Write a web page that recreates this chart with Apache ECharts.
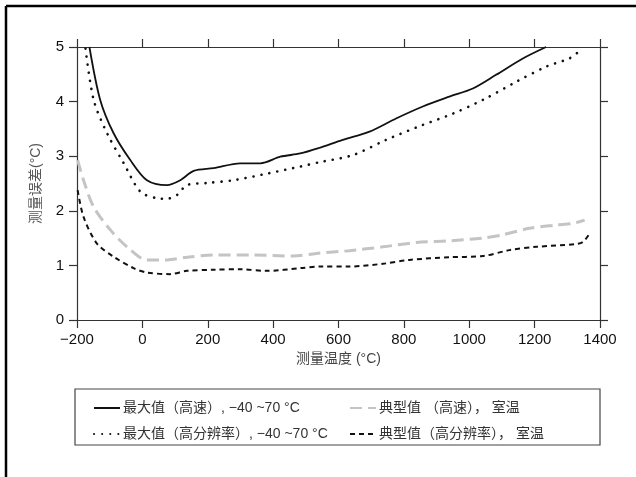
<!DOCTYPE html>
<html><head><meta charset="utf-8">
<script src="https://cdn.jsdelivr.net/npm/echarts@6/dist/echarts.min.js"></script>
<style>html,body{margin:0;padding:0;background:#fff}#c{width:636px;height:477px}</style>
</head><body><div id="c"></div>
<script>
const xTicks = [-200, 0, 200, 400, 600, 800, 1000, 1200, 1400];
const yTicks = [0, 1, 2, 3, 4, 5];
const seriesNames = ['最大值（高速）, −40 ~70 °C', '最大值（高分辨率）, −40 ~70 °C', '典型值 （高速）， 室温', '典型值（高分辨率）， 室温'];
const xMaxFast = [-162,-129,-88,-37,14,75,116,157,218,299,361,422,483,540,613,695,776,858,939,1011,1082,1164,1235];
const yMaxFast = [5.0,4.03,3.42,2.93,2.56,2.47,2.56,2.73,2.78,2.87,2.87,2.99,3.05,3.15,3.30,3.45,3.69,3.91,4.09,4.24,4.49,4.79,5.0];
const xMaxHiRes = [-174,-149,-108,-57,-6,45,75,106,136,198,279,381,483,542,644,746,848,950,1041,1143,1235,1306,1332];
const yMaxHiRes = [4.97,4.03,3.42,2.87,2.35,2.23,2.22,2.29,2.47,2.51,2.56,2.68,2.81,2.89,3.02,3.30,3.55,3.78,4.03,4.36,4.64,4.79,4.90];
const xTypFast = [-198,-180,-149,-98,-47,14,75,136,218,340,462,532,634,736,838,940,1041,1103,1184,1266,1317,1353];
const yTypFast = [2.93,2.56,2.07,1.65,1.34,1.10,1.10,1.15,1.19,1.19,1.17,1.22,1.27,1.34,1.42,1.45,1.50,1.56,1.68,1.74,1.77,1.83];
const xTypHiRes = [-198,-180,-139,-88,-27,14,85,136,218,299,381,483,544,634,736,817,940,1041,1123,1205,1327,1348,1368];
const yTypHiRes = [2.38,1.89,1.40,1.16,0.95,0.87,0.84,0.90,0.92,0.93,0.90,0.95,0.98,0.98,1.03,1.10,1.15,1.17,1.28,1.34,1.39,1.43,1.58];

const zip = (xs, ys) => xs.map((x, i) => [x, ys[i]]);
const latin = 'Liberation Sans, Arial, sans-serif';
const cjk = '"Liberation Sans", "Noto Sans CJK SC", sans-serif';
const axisColor = '#333';

const chart = echarts.init(document.getElementById('c'), null, {renderer: 'canvas'});
const mk = (name, data, ls) => ({
  name, type: 'line', data, showSymbol: false, symbol: 'none', smooth: 0.3,
  animation: false, lineStyle: ls, itemStyle: {color: ls.color, opacity: 0}, clip: true
});
const axLine = {onZero: false, show: true, lineStyle: {color: axisColor, width: 1.2}};
const axTick = {show: true, length: 8, lineStyle: {color: axisColor, width: 1.2}};
chart.setOption({
  animation: false,
  grid: {left: 77, right: 36, top: 47, bottom: 157},
  xAxis: [
    {type: 'value', position: 'bottom', min: xTicks[0], max: xTicks[xTicks.length-1], interval: 200,
     name: '测量温度 (°C)', nameLocation: 'middle', nameGap: 30,
     nameTextStyle: {fontFamily: cjk, fontSize: 14, color: '#444'},
     axisLine: axLine, axisTick: axTick,
     axisLabel: {margin: 12, fontSize: 15, fontFamily: latin, color: '#111',
       formatter: v => String(v).replace('-', '−')},
     splitLine: {show: false}},
    {type: 'value', position: 'top', min: xTicks[0], max: xTicks[xTicks.length-1], interval: 200,
     axisLine: axLine, axisTick: axTick,
     axisLabel: {show: false}, splitLine: {show: false}}
  ],
  yAxis: [
    {type: 'value', position: 'left', min: yTicks[0], max: yTicks[yTicks.length-1], interval: 1,
     name: '测量误差(°C)', nameLocation: 'middle', nameGap: 34,
     nameTextStyle: {fontFamily: cjk, fontSize: 14, color: '#555'},
     axisLine: axLine, axisTick: axTick,
     axisLabel: {margin: 13, fontSize: 15, fontFamily: latin, color: '#111'},
     splitLine: {show: false}},
    {type: 'value', position: 'right', min: yTicks[0], max: yTicks[yTicks.length-1], interval: 1,
     axisLine: axLine, axisTick: axTick,
     axisLabel: {show: false}, splitLine: {show: false}}
  ],
  legend: [
    {data: [seriesNames[0], seriesNames[1]], orient: 'vertical', left: 88, top: 396,
     itemWidth: 26, itemHeight: 12, itemGap: 12, selectedMode: false,
     itemStyle: {opacity: 0},
     textStyle: {fontFamily: cjk, fontSize: 14, color: '#333', padding: [0,0,0,-2]}},
    {data: [seriesNames[2], seriesNames[3]], orient: 'vertical', left: 344, top: 396,
     itemWidth: 26, itemHeight: 12, itemGap: 12, selectedMode: false,
     itemStyle: {opacity: 0},
     textStyle: {fontFamily: cjk, fontSize: 14, color: '#333', padding: [0,0,0,-2]}}
  ],
  graphic: [
    {type: 'rect', shape: {x: 75, y: 389, width: 525, height: 56},
     style: {fill: 'none', stroke: '#444', lineWidth: 1.2}, silent: true},
    {type: 'line', shape: {x1: 6, y1: 6, x2: 636, y2: 6}, style: {stroke: '#000', lineWidth: 2.5}},
    {type: 'line', shape: {x1: 6, y1: 6, x2: 6, y2: 477}, style: {stroke: '#000', lineWidth: 2.5}}
  ],
  series: [
    mk(seriesNames[0], zip(xMaxFast, yMaxFast), {color: '#111', width: 1.8, type: 'solid'}),
    mk(seriesNames[1], zip(xMaxHiRes, yMaxHiRes), {color: '#111', width: 2.6, type: [0.1, 8], cap: 'round'}),
    mk(seriesNames[2], zip(xTypFast, yTypFast), {color: '#c4c4c4', width: 3, type: [12, 6], cap: 'butt'}),
    mk(seriesNames[3], zip(xTypHiRes, yTypHiRes), {color: '#111', width: 2, type: [5, 4], cap: 'butt'})
  ]
});
</script></body></html>
